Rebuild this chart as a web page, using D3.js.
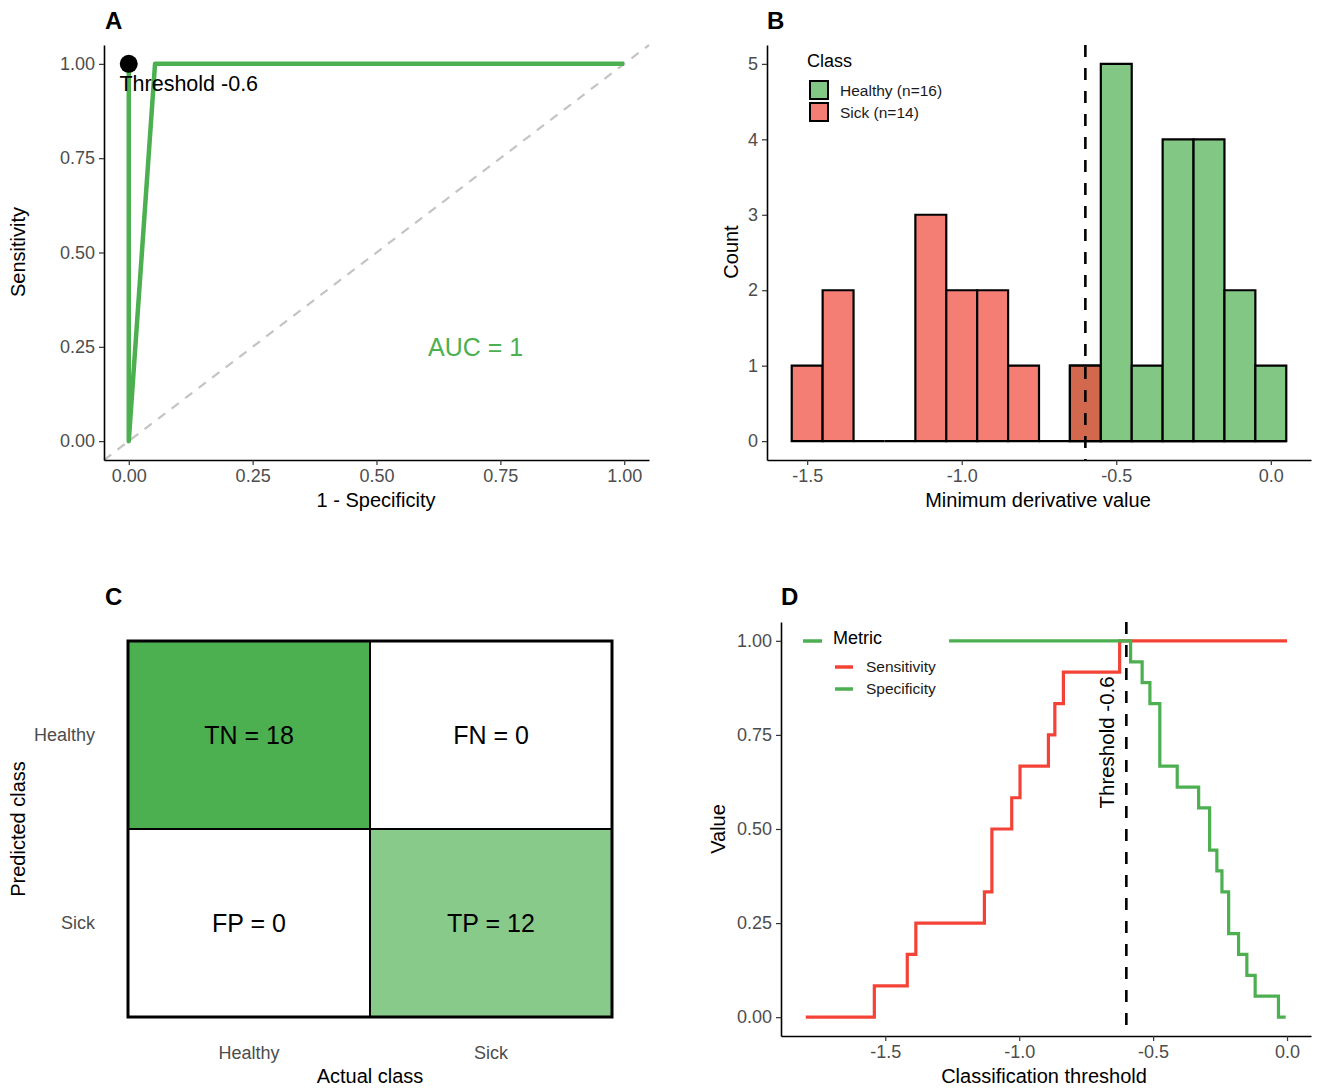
<!DOCTYPE html>
<html lang="en">
<head>
<meta charset="UTF-8">
<title>ROC / histogram / confusion / thresholds</title>
<script src="https://cdn.jsdelivr.net/npm/d3@7.9.0/dist/d3.min.js"></script>
<style>
    body { margin: 0; background: #fff; }
    svg { display: block; font-family: "Liberation Sans", Arial, sans-serif; }
    .tick text { fill: #4d4d4d; font-size: 18px; }
    .tick line { stroke: #333; stroke-width: 1.2; }
    .domain { stroke: #000; stroke-width: 1.6; }
    .title { font-size: 20px; fill: #000; }
    .panel-label { font-size: 24px; font-weight: bold; }
</style>
</head>
<body>
<svg id="fig" width="1319" height="1092"></svg>
<script>
// ---- data ----
// A: ROC curve
const rocFpr = [0, 0, 0.053, 1];
const rocTpr = [1, 0, 1, 1];
const aucText = "AUC = 1";
const bestThreshold = -0.6;

// B: histogram of minimum derivative value (bin width 0.1)
const binCenters = [-1.5, -1.4, -1.3, -1.2, -1.1, -1.0, -0.9, -0.8, -0.7, -0.6, -0.5, -0.4, -0.3, -0.2, -0.1, 0.0];
const sickCounts    = [1, 2, 0, 0, 3, 2, 2, 1, 0, 1, 0, 0, 0, 0, 0, 0];
const healthyCounts = [0, 0, 0, 0, 0, 0, 0, 0, 0, 1, 5, 1, 4, 4, 2, 1];
const classLabels = ["Healthy (n=16)", "Sick (n=14)"];

// C: confusion matrix
const actualClasses = ["Healthy", "Sick"];
const predictedClasses = ["Healthy", "Sick"];
const cellNames  = ["TN", "FN", "FP", "TP"];
const cellCounts = [18, 0, 0, 12];

// D: sensitivity / specificity vs threshold (step after each threshold)
const sensThr = [-1.797, -1.541, -1.418, -1.386, -1.130, -1.102, -1.028, -0.997, -0.891, -0.867, -0.835, -0.625, 0.0];
const sensVal = [0, 0.083, 0.167, 0.25, 0.333, 0.5, 0.583, 0.667, 0.75, 0.833, 0.917, 1, 1];
const specThr = [-1.262, -0.584, -0.541, -0.512, -0.475, -0.410, -0.330, -0.289, -0.262, -0.243, -0.218, -0.181, -0.150, -0.119, -0.032, -0.005];
const specVal = [1, 0.944, 0.889, 0.833, 0.667, 0.611, 0.556, 0.444, 0.389, 0.333, 0.222, 0.167, 0.111, 0.056, 0, 0];

const green = "#4caf50", red = "#f44336";
const svg = d3.select("#fig");

// plain hyphen minus like R does
const fmt = spec => { const f = d3.format(spec); return v => f(v).replace("\u2212", "-"); };

function panelLabel(txt, x, y) {
    svg.append("text").attr("class", "panel-label").attr("x", x).attr("y", y).text(txt);
}
function xTitle(txt, x, y) {
    svg.append("text").attr("class", "title").attr("x", x).attr("y", y)
        .attr("text-anchor", "middle").text(txt);
}
function yTitle(txt, x, y) {
    svg.append("text").attr("class", "title").attr("text-anchor", "middle")
        .attr("transform", `translate(${x},${y}) rotate(-90)`).text(txt);
}
function axes(x, y, xTicks, yTicks, xFmt, yFmt) {
    const [x0] = x.range(), [y0] = y.range();
    svg.append("g").attr("transform", `translate(0,${y0})`)
        .call(d3.axisBottom(x).tickValues(xTicks).tickFormat(xFmt).tickSize(5).tickSizeOuter(0).tickPadding(4));
    svg.append("g").attr("transform", `translate(${x0},0)`)
        .call(d3.axisLeft(y).tickValues(yTicks).tickFormat(yFmt).tickSize(5).tickSizeOuter(0).tickPadding(4));
}

// ================= A =================
{
    const x = d3.scaleLinear().domain([-0.05, 1.05]).range([104, 649]);
    const y = d3.scaleLinear().domain([-0.05, 1.05]).range([460, 45]);
    panelLabel("A", 105, 29);

    svg.append("line")
        .attr("x1", x(-0.05)).attr("y1", y(-0.05)).attr("x2", x(1.05)).attr("y2", y(1.05))
        .attr("stroke", "#c4c4c4").attr("stroke-width", 2.2).attr("stroke-dasharray", "9,8");

    const pts = rocFpr.map((f, i) => [f, rocTpr[i]]);
    svg.append("path").datum(pts)
        .attr("d", d3.line().x(d => x(d[0])).y(d => y(d[1])))
        .attr("fill", "none").attr("stroke", green).attr("stroke-width", 4.5)
        .attr("stroke-linejoin", "round");

    svg.append("circle").attr("cx", x(0)).attr("cy", y(1)).attr("r", 9).attr("fill", "#000");
    svg.append("text").attr("x", x(0) + 60).attr("y", y(1) + 27)
        .attr("text-anchor", "middle").attr("font-size", 21.5).text("Threshold " + bestThreshold);

    svg.append("text").attr("x", x(0.70)).attr("y", y(0.25) + 9)
        .attr("text-anchor", "middle").attr("font-size", 25).attr("fill", green).text(aucText);

    axes(x, y, [0, 0.25, 0.5, 0.75, 1], [0, 0.25, 0.5, 0.75, 1], fmt(".2f"), fmt(".2f"));
    xTitle("1 - Specificity", 376, 507);
    yTitle("Sensitivity", 25, 252);
}

// ================= B =================
{
    const x = d3.scaleLinear().domain([-1.63, 0.13]).range([767, 1311]);
    const y = d3.scaleLinear().domain([-0.25, 5.25]).range([460, 45]);
    panelLabel("B", 767, 29);
    const sickFill = "#f47e74", healthyFill = "#83c785", bothFill = "#d2694f";

    const bar = (c, n) => {
        const l = x(c - 0.05), r = x(c + 0.05), b = y(0), t = y(n);
        return `M${l},${b}L${l},${t}L${r},${t}L${r},${b}Z`;
    };
    svg.append("g").selectAll("path").data(binCenters.map((c, i) => ({ c, n: sickCounts[i] })))
        .join("path").attr("d", d => bar(d.c, d.n))
        .attr("fill", sickFill).attr("stroke", "#000").attr("stroke-width", 2.2);
    svg.append("g").selectAll("path")
        .data(binCenters.map((c, i) => ({ c, n: healthyCounts[i], both: sickCounts[i] > 0 }))
            .filter(d => d.n > 0 || d.c > -0.65))
        .join("path").attr("d", d => bar(d.c, d.n))
        .attr("fill", d => d.both ? bothFill : healthyFill).attr("stroke", "#000").attr("stroke-width", 2.2);

    svg.append("line").attr("x1", x(bestThreshold)).attr("x2", x(bestThreshold))
        .attr("y1", 45).attr("y2", 460)
        .attr("stroke", "#000").attr("stroke-width", 2.6).attr("stroke-dasharray", "12,11");

    axes(x, y, [-1.5, -1.0, -0.5, 0.0], [0, 1, 2, 3, 4, 5], fmt(".1f"), fmt("d"));
    xTitle("Minimum derivative value", 1038, 507);
    yTitle("Count", 738, 252);

    // legend
    const lg = svg.append("g");
    lg.append("text").attr("x", 807).attr("y", 67).attr("font-size", 18).text("Class");
    [healthyFill, sickFill].forEach((f, i) => {
        lg.append("rect").attr("x", 810).attr("y", 81 + i * 22).attr("width", 18).attr("height", 18)
            .attr("fill", f).attr("stroke", "#000").attr("stroke-width", 2);
        lg.append("text").attr("x", 840).attr("y", 96 + i * 22).attr("font-size", 15.5)
            .attr("fill", "#1a1a1a").text(classLabels[i]);
    });
}

// ================= C =================
{
    const x = d3.scaleBand().domain(actualClasses).range([128, 612]);
    const y = d3.scaleBand().domain(predictedClasses).range([641, 1017]);
    const fill = d3.scaleLinear().domain([0, 18]).range(["#ffffff", green]);
    panelLabel("C", 105, 605);

    const cells = cellNames.map((nm, i) => ({
        nm, n: cellCounts[i],
        pred: predictedClasses[Math.floor(i / 2)], act: actualClasses[i % 2]
    }));
    const g = svg.append("g");
    g.selectAll("rect").data(cells).join("rect")
        .attr("x", d => x(d.act)).attr("y", d => y(d.pred))
        .attr("width", x.bandwidth()).attr("height", y.bandwidth())
        .attr("fill", d => fill(d.n)).attr("stroke", "#000").attr("stroke-width", 2);
    g.selectAll("text").data(cells).join("text")
        .attr("x", d => x(d.act) + x.bandwidth() / 2).attr("y", d => y(d.pred) + y.bandwidth() / 2 + 9)
        .attr("text-anchor", "middle").attr("font-size", 25).text(d => `${d.nm} = ${d.n}`);
    svg.append("rect").attr("x", 128).attr("y", 641).attr("width", 484).attr("height", 376)
        .attr("fill", "none").attr("stroke", "#000").attr("stroke-width", 3);

    svg.append("g").selectAll("text").data(predictedClasses).join("text")
        .attr("x", 95).attr("y", d => y(d) + y.bandwidth() / 2 + 6)
        .attr("text-anchor", "end").attr("font-size", 18).attr("fill", "#4d4d4d").text(d => d);
    svg.append("g").selectAll("text").data(actualClasses).join("text")
        .attr("x", d => x(d) + x.bandwidth() / 2).attr("y", 1059)
        .attr("text-anchor", "middle").attr("font-size", 18).attr("fill", "#4d4d4d").text(d => d);
    xTitle("Actual class", 370, 1083);
    yTitle("Predicted class", 25, 829);
}

// ================= D =================
{
    const x = d3.scaleLinear().domain([-1.8895, 0.0895]).range([781, 1311]);
    const y = d3.scaleLinear().domain([-0.05, 1.05]).range([1036, 622]);
    panelLabel("D", 781, 605);
    const line = d3.line().x(d => x(d[0])).y(d => y(d[1])).curve(d3.curveStepAfter);

    svg.append("path").datum(sensThr.map((t, i) => [t, sensVal[i]]))
        .attr("d", line).attr("fill", "none").attr("stroke", red).attr("stroke-width", 3.2);
    svg.append("path").datum(specThr.map((t, i) => [t, specVal[i]]))
        .attr("d", line).attr("fill", "none").attr("stroke", green).attr("stroke-width", 3.2);

    svg.append("line").attr("x1", x(bestThreshold)).attr("x2", x(bestThreshold))
        .attr("y1", 622).attr("y2", 1036)
        .attr("stroke", "#000").attr("stroke-width", 2.6).attr("stroke-dasharray", "12,11");
    svg.append("text").attr("font-size", 20.5).attr("text-anchor", "middle")
        .attr("transform", `translate(${x(bestThreshold) - 12},${y(0.73)}) rotate(-90)`)
        .text("Threshold " + bestThreshold);

    axes(x, y, [-1.5, -1.0, -0.5, 0.0], [0, 0.25, 0.5, 0.75, 1], fmt(".1f"), fmt(".2f"));
    xTitle("Classification threshold", 1044, 1083);
    yTitle("Value", 725, 829);

    // legend
    const lg = svg.append("g");
    lg.append("line").attr("x1", 803).attr("x2", 822).attr("y1", 641).attr("y2", 641)
        .attr("stroke", green).attr("stroke-width", 3.5);
    lg.append("text").attr("x", 833).attr("y", 644).attr("font-size", 18).text("Metric");
    [["Sensitivity", red], ["Specificity", green]].forEach(([lab, c], i) => {
        lg.append("line").attr("x1", 835).attr("x2", 853).attr("y1", 667 + i * 22).attr("y2", 667 + i * 22)
            .attr("stroke", c).attr("stroke-width", 3.5);
        lg.append("text").attr("x", 866).attr("y", 672 + i * 22).attr("font-size", 15.5)
            .attr("fill", "#1a1a1a").text(lab);
    });
}
</script>
</body>
</html>
